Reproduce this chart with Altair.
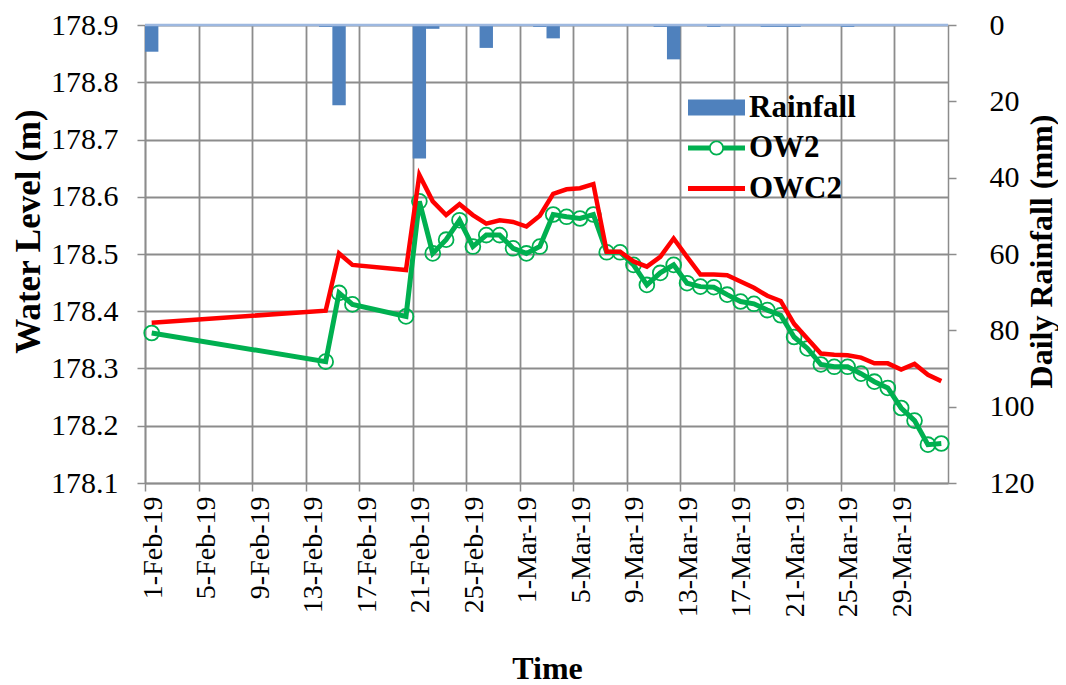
import altair as alt
import pandas as pd

# ---------------- data ----------------
water_dates = [
    "2019-02-01", "2019-02-14", "2019-02-15", "2019-02-16", "2019-02-20",
    "2019-02-21", "2019-02-22", "2019-02-23", "2019-02-24", "2019-02-25",
    "2019-02-26", "2019-02-27", "2019-02-28", "2019-03-01", "2019-03-02",
    "2019-03-03", "2019-03-04", "2019-03-05", "2019-03-06", "2019-03-07",
    "2019-03-08", "2019-03-09", "2019-03-10", "2019-03-11", "2019-03-12",
    "2019-03-13", "2019-03-14", "2019-03-15", "2019-03-16", "2019-03-17",
    "2019-03-18", "2019-03-19", "2019-03-20", "2019-03-21", "2019-03-22",
    "2019-03-23", "2019-03-24", "2019-03-25", "2019-03-26", "2019-03-27",
    "2019-03-28", "2019-03-29", "2019-03-30", "2019-03-31", "2019-04-01",
]
ow2 = [
    178.362, 178.312, 178.432, 178.412, 178.391,
    178.592, 178.501, 178.525, 178.559, 178.513,
    178.533, 178.533, 178.510, 178.501, 178.513,
    178.569, 178.565, 178.562, 178.569, 178.503,
    178.503, 178.481, 178.446, 178.467, 178.481,
    178.449, 178.443, 178.442, 178.429, 178.417,
    178.413, 178.402, 178.393, 178.355, 178.335,
    178.307, 178.303, 178.303, 178.291, 178.277,
    178.266, 178.231, 178.209, 178.167, 178.169,
]
owc2 = [
    178.380, 178.401, 178.501, 178.481, 178.472,
    178.638, 178.592, 178.568, 178.587, 178.568,
    178.553, 178.559, 178.556, 178.548, 178.567,
    178.605, 178.613, 178.615, 178.622, 178.504,
    178.504, 178.487, 178.478, 178.495, 178.527,
    178.495, 178.464, 178.464, 178.463, 178.452,
    178.441, 178.427, 178.418, 178.378, 178.352,
    178.326, 178.324, 178.323, 178.319, 178.309,
    178.309, 178.298, 178.308, 178.289, 178.278,
]

rain_dates = [
    "2019-02-01", "2019-02-14", "2019-02-15", "2019-02-21", "2019-02-22",
    "2019-02-26", "2019-03-02", "2019-03-03", "2019-03-11", "2019-03-12",
    "2019-03-15", "2019-03-19", "2019-03-20", "2019-03-21", "2019-03-25",
]
rain_mm = [7, 0.5, 21, 35, 1, 6, 0.5, 3.5, 0.5, 9, 0.5, 0.5, 0.5, 0.5, 0.5]

tick_dates = [
    "2019-02-01", "2019-02-05", "2019-02-09", "2019-02-13", "2019-02-17",
    "2019-02-21", "2019-02-25", "2019-03-01", "2019-03-05", "2019-03-09",
    "2019-03-13", "2019-03-17", "2019-03-21", "2019-03-25", "2019-03-29",
]
level_ticks = [178.1, 178.2, 178.3, 178.4, 178.5, 178.6, 178.7, 178.8, 178.9]
rain_ticks = [0, 20, 40, 60, 80, 100, 120]
series_names = ["Rainfall", "OW2", "OWC2"]
series_colors = ["#4F81BD", "#00B050", "#FF0000"]

# legend glyphs (custom symbol paths)
legend_shapes = [
    "M-1.9,-0.53H1.9V0.53H-1.9Z",
    "M-1.9,-0.17H-0.45V0.17H-1.9Z M0.45,-0.17H1.9V0.17H0.45Z "
    "M0.5,0A0.5,0.5 0 1 1 -0.5,0A0.5,0.5 0 1 1 0.5,0Z "
    "M0.38,0A0.38,0.38 0 1 0 -0.38,0A0.38,0.38 0 1 0 0.38,0Z",
    "M-1.9,-0.17H1.9V0.17H-1.9Z",
]

# ---------------- tables ----------------
wd = pd.to_datetime(water_dates) + pd.Timedelta(hours=12)
water = pd.concat([
    pd.DataFrame({"date": wd, "level": ow2, "series": "OW2"}),
    pd.DataFrame({"date": wd, "level": owc2, "series": "OWC2"}),
])
rd = pd.to_datetime(rain_dates)
rain = pd.DataFrame({"start": rd, "end": rd + pd.Timedelta(days=1),
                     "mm": rain_mm, "series": "Rainfall"})
legend_df = pd.DataFrame({"series": series_names})


def dt(s):
    t = pd.Timestamp(s)
    return alt.DateTime(year=t.year, month=t.month, date=t.day)


SERIF = "Liberation Serif"
GRID = "#8C8C8C"
W, H = 803, 458

x_scale = alt.Scale(domain=[dt("2019-02-01"), dt("2019-04-02")])
x_axis = alt.Axis(
    values=[dt(s) for s in tick_dates], format="%-d-%b-%y", labelAngle=-90,
    labelFont=SERIF, labelFontSize=28, labelColor="black", labelOffset=8,
    labelPadding=5, labelOverlap=False, labelFlush=False,
    tickSize=8, tickColor=GRID, tickWidth=1.5,
    domainColor=GRID, domainWidth=1.5,
    grid=True, gridColor=GRID, gridWidth=1.8,
    title="Time", titleFont=SERIF, titleFontSize=32, titleFontWeight="bold",
    titleColor="black", titleX=402, titleY=185, titleAlign="center",
    titleBaseline="middle",
)

color_scale = alt.Scale(domain=series_names, range=series_colors)
color_nolegend = alt.Color("series:N", scale=color_scale, legend=None)

legend = alt.Legend(
    orient="none", legendX=556, legendY=67, title=None, padding=0,
    symbolSize=900, symbolStrokeWidth=0, symbolOpacity=1,
    labelFont=SERIF, labelFontSize=31, labelFontWeight="bold",
    labelColor="black", labelOffset=17, rowPadding=8.5,
)

bars = alt.Chart(rain).mark_bar(color="#4F81BD", opacity=1).encode(
    x=alt.X("start:T", scale=x_scale, axis=x_axis),
    x2="end:T",
    y=alt.Y("mm:Q", scale=alt.Scale(domain=[0, 120], reverse=True, nice=False, zero=True),
            axis=alt.Axis(orient="right", values=rain_ticks, grid=False,
                          labelFont=SERIF, labelFontSize=30, labelColor="black",
                          labelPadding=33, tickSize=8, tickColor=GRID, tickWidth=1.5,
                          domainColor=GRID, domainWidth=1.5,
                          title="Daily Rainfall (mm)", titleFont=SERIF,
                          titleFontSize=32, titleFontWeight="bold", titleColor="black",
                          titleAngle=270, titleX=93, titleY=226, titleAlign="center",
                          titleBaseline="middle")),
    y2=alt.datum(0),
    color=color_nolegend,
)

y_level = alt.Y("level:Q", scale=alt.Scale(domain=[178.1, 178.9], nice=False, zero=False),
                axis=alt.Axis(orient="left", values=level_ticks, format=".1f",
                              labelFont=SERIF, labelFontSize=30, labelColor="black",
                              labelPadding=19, tickSize=8, tickColor=GRID, tickWidth=1.5,
                              domainColor=GRID, domainWidth=1.5,
                              grid=True, gridColor=GRID, gridWidth=1.8,
                              title="Water Level (m)", titleFont=SERIF,
                              titleFontSize=35, titleFontWeight="bold",
                              titleColor="black", titleAngle=270, titleX=-117,
                              titleY=206, titleAlign="center", titleBaseline="middle"))
x_line = alt.X("date:T", scale=x_scale, axis=x_axis)

g = water[water.series == "OW2"]
r = water[water.series == "OWC2"]
g_line = alt.Chart(g).mark_line(strokeWidth=5).encode(x=x_line, y=y_level, color=color_nolegend)
g_pts = alt.Chart(g).mark_point(shape="circle", size=220, filled=False,
                                strokeWidth=1.8, opacity=1).encode(
    x=x_line, y=y_level, color=color_nolegend)
r_line = alt.Chart(r).mark_line(strokeWidth=4.5).encode(x=x_line, y=y_level, color=color_nolegend)

levels = alt.layer(g_line, g_pts, r_line)

# invisible layer that only carries the legend
legend_layer = alt.Chart(legend_df).mark_point(filled=True, opacity=0).encode(
    x=alt.value(0), y=alt.value(0),
    color=alt.Color("series:N", scale=color_scale, legend=legend),
    shape=alt.Shape("series:N", scale=alt.Scale(domain=series_names, range=legend_shapes),
                    legend=legend),
)

top_line = alt.Chart(pd.DataFrame({"k": [0]})).mark_rule(
    color="#9DB8E0", strokeWidth=2.5).encode(
    x=alt.value(0), x2=alt.value(W), y=alt.value(0))

chart = alt.layer(bars, levels, top_line, legend_layer).resolve_scale(
    y="independent", color="independent", shape="independent").properties(
    width=W, height=H, autosize="none",
    padding={"left": 137, "top": 17, "right": 110, "bottom": 202},
).configure_view(strokeWidth=0).configure(background="white")

chart.save("out.html", embed_options={"renderer": "svg", "actions": False})
